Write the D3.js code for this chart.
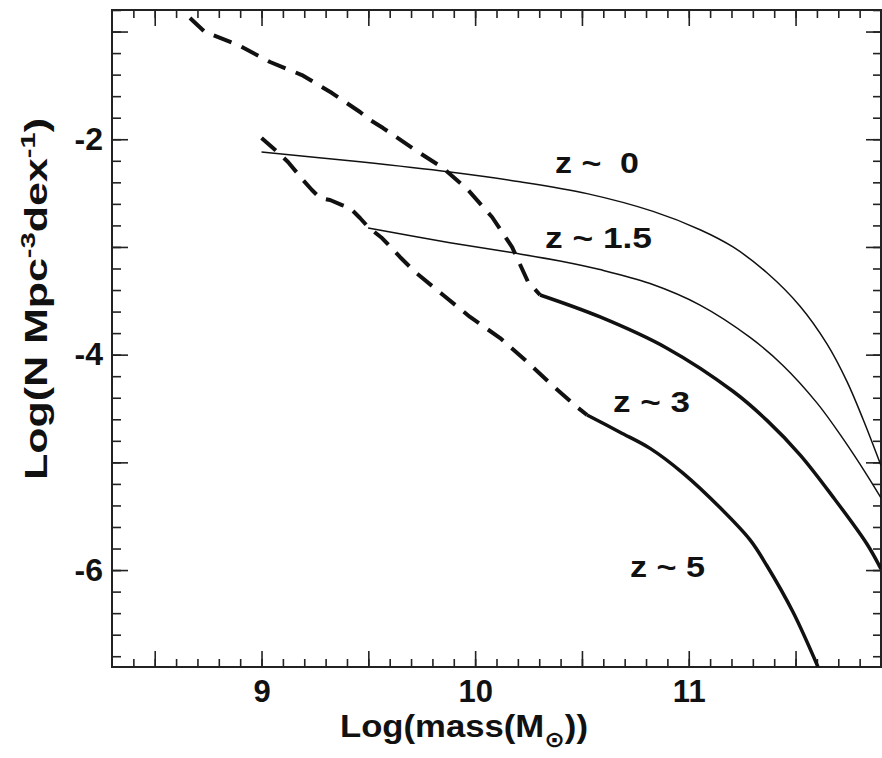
<!DOCTYPE html>
<html><head><meta charset="utf-8">
<script src="https://cdn.jsdelivr.net/npm/d3@7"></script>
<style>
body{margin:0;background:#fff}
svg text{font-family:"Liberation Sans",Arial,sans-serif;font-weight:bold;fill:#111}
</style>
</head><body>
<svg id="chart" width="882" height="758"></svg>
<script>
// ---- data ----
const z0Mass  = [9.000, 9.461, 9.882, 10.210, 10.524, 10.833, 11.053, 11.207, 11.366, 11.521, 11.647, 11.741, 11.816, 11.900];
const z0Phi   = [-2.118, -2.210, -2.305, -2.395, -2.505, -2.670, -2.840, -3.000, -3.240, -3.550, -3.900, -4.250, -4.600, -5.030];
const z15Mass = [9.499, 9.882, 10.163, 10.397, 10.584, 10.819, 11.053, 11.287, 11.441, 11.601, 11.722, 11.835, 11.900];
const z15Phi  = [-2.824, -2.960, -3.050, -3.130, -3.210, -3.340, -3.540, -3.840, -4.100, -4.450, -4.780, -5.120, -5.330];
const z3Mass  = [10.304, 10.585, 10.898, 11.207, 11.366, 11.521, 11.675, 11.835, 11.900];
const z3Phi   = [-3.446, -3.650, -3.940, -4.340, -4.610, -4.930, -5.320, -5.760, -5.990];
const z5Mass  = [10.524, 10.678, 10.819, 10.973, 11.146, 11.287, 11.366, 11.488, 11.605];
const z5Phi   = [-4.560, -4.720, -4.870, -5.100, -5.420, -5.720, -5.960, -6.390, -6.900];
const upperDashMass = [8.665, 8.735, 8.890, 9.040, 9.189, 9.330, 9.461, 9.508, 9.569, 9.719, 9.850, 9.967, 10.079, 10.173, 10.248, 10.304];
const upperDashPhi  = [-0.874, -1.004, -1.125, -1.283, -1.404, -1.571, -1.747, -1.821, -1.896, -2.100, -2.267, -2.471, -2.722, -3.001, -3.326, -3.446];
const lowerDashMass = [9.000, 9.075, 9.124, 9.194, 9.236, 9.274, 9.321, 9.377, 9.414, 9.461, 9.499, 9.564, 9.648, 9.719, 9.850, 9.976, 10.117, 10.234, 10.360, 10.482, 10.524];
const lowerDashPhi  = [-1.988, -2.118, -2.211, -2.378, -2.471, -2.546, -2.564, -2.611, -2.638, -2.731, -2.815, -2.917, -3.093, -3.233, -3.446, -3.650, -3.846, -4.050, -4.282, -4.495, -4.560];

const curveLabels = ["z ~  0", "z ~ 1.5", "z ~ 3", "z ~ 5"];
const labelMass   = [10.374, 10.327, 10.645, 10.725];
const labelPhi    = [-2.313, -3.010, -4.533, -6.065];
const labelWidth  = [84, 107, 77, 75];

const xLabelTicks = [9, 10, 11];
const yLabelTicks = [-2, -4, -6];
const xDomain = [8.3, 11.9];
const yDomain = [-0.8, -6.9];

// ---- layout ----
const svg = d3.select("#chart");
svg.append("rect").attr("width",882).attr("height",758).attr("fill","#fff");
const L = 112, R = 881, T = 10, B = 667;
const x = d3.scaleLinear().domain(xDomain).range([L, R]);
const y = d3.scaleLinear().domain(yDomain).range([T, B]);

const xMinor = d3.range(84, 119).map(v => v/10).filter(v => v > xDomain[0] && v < xDomain[1]);
const xMajor = xMinor.filter(v => Math.abs(v*2 - Math.round(v*2)) < 1e-6);
const yMinor = d3.range(-68, -4, 2).map(v => v/10);
const yMajor = yMinor.filter(v => Math.abs(v - Math.round(v)) < 1e-6);

function tickAxis(axisFn, scale, vals, size, transform){
  const g = svg.append("g").attr("transform", transform)
    .call(axisFn(scale).tickValues(vals).tickSize(size).tickFormat(""));
  g.select(".domain").remove();
  g.selectAll(".tick line").attr("stroke","#222").attr("stroke-width",1.6);
  return g;
}
tickAxis(d3.axisBottom, x, xMinor, -8,  `translate(0,${B})`);
tickAxis(d3.axisBottom, x, xMajor, -16, `translate(0,${B})`);
tickAxis(d3.axisTop,    x, xMinor, -8,  `translate(0,${T})`);
tickAxis(d3.axisTop,    x, xMajor, -16, `translate(0,${T})`);
tickAxis(d3.axisLeft,   y, yMinor, -9,  `translate(${L},0)`);
tickAxis(d3.axisLeft,   y, yMajor, -16, `translate(${L},0)`);
tickAxis(d3.axisRight,  y, yMinor, -8,  `translate(${R},0)`);
tickAxis(d3.axisRight,  y, yMajor, -15, `translate(${R},0)`);

const xl = svg.append("g").attr("transform",`translate(0,${B})`)
  .call(d3.axisBottom(x).tickValues(xLabelTicks).tickSize(0).tickPadding(13).tickFormat(d3.format("d")));
xl.select(".domain").remove();
xl.selectAll("text").style("font-size","31px").style("font-family",'"Liberation Sans",Arial,sans-serif').style("font-weight","bold").attr("fill","#111");

const yl = svg.append("g").attr("transform",`translate(${L},0)`)
  .call(d3.axisLeft(y).tickValues(yLabelTicks).tickSize(0).tickPadding(9).tickFormat(d => d3.format("d")(d).replace("\u2212","-")));
yl.select(".domain").remove();
yl.selectAll("text").style("font-size","32px").style("font-family",'"Liberation Sans",Arial,sans-serif').style("font-weight","bold").attr("fill","#111");

svg.append("rect").attr("x",L).attr("y",T).attr("width",R-L).attr("height",B-T)
  .attr("fill","none").attr("stroke","#222").attr("stroke-width",2);

const zip = (a,b) => a.map((v,i) => [v, b[i]]);
const smooth = d3.line().x(d => x(d[0])).y(d => y(d[1])).curve(d3.curveCatmullRom.alpha(0.5));
const straight = d3.line().x(d => x(d[0])).y(d => y(d[1]));
svg.append("clipPath").attr("id","pc").append("rect")
  .attr("x",L).attr("y",T).attr("width",R-L).attr("height",B-T);
const plot = svg.append("g").attr("clip-path","url(#pc)");

plot.append("path").attr("d", smooth(zip(z0Mass,z0Phi))).attr("fill","none").attr("stroke","#111").attr("stroke-width",1.5);
plot.append("path").attr("d", smooth(zip(z15Mass,z15Phi))).attr("fill","none").attr("stroke","#111").attr("stroke-width",1.5);
plot.append("path").attr("d", smooth(zip(z3Mass,z3Phi))).attr("fill","none").attr("stroke","#111").attr("stroke-width",3.5);
plot.append("path").attr("d", smooth(zip(z5Mass,z5Phi))).attr("fill","none").attr("stroke","#111").attr("stroke-width",3.5);
plot.append("path").attr("d", straight(zip(upperDashMass,upperDashPhi))).attr("fill","none").attr("stroke","#111")
  .attr("stroke-width",4).attr("stroke-dasharray","19,11").attr("stroke-linejoin","round");
plot.append("path").attr("d", straight(zip(lowerDashMass,lowerDashPhi))).attr("fill","none").attr("stroke","#111")
  .attr("stroke-width",4).attr("stroke-dasharray","19,11").attr("stroke-linejoin","round");

svg.append("g").selectAll("text").data(curveLabels).join("text")
  .attr("x",(d,i) => x(labelMass[i])).attr("y",(d,i) => y(labelPhi[i]))
  .attr("xml:space","preserve").style("white-space","pre")
  .attr("textLength",(d,i) => labelWidth[i]).attr("lengthAdjust","spacingAndGlyphs")
  .style("font-size","29px").text(d => d);

const xt = svg.append("text").attr("x", 340).attr("y", 737)
  .attr("textLength", 248).attr("lengthAdjust","spacingAndGlyphs").style("font-size","31px");
xt.append("tspan").text("Log(mass(M");
xt.append("tspan").text("\u2299").attr("dy",10).style("font-size","22px").style("font-family","'DejaVu Sans',sans-serif");
xt.append("tspan").text("))").attr("dy",-10);

const yt = svg.append("text").attr("transform","translate(47,480) rotate(-90)")
  .attr("textLength", 362).attr("lengthAdjust","spacingAndGlyphs").style("font-size","31px");
yt.append("tspan").text("Log(N Mpc");
yt.append("tspan").text("-3").attr("dy",-12).style("font-size","21px");
yt.append("tspan").text("dex").attr("dy",12);
yt.append("tspan").text("-1").attr("dy",-12).style("font-size","21px");
yt.append("tspan").text(")").attr("dy",12);
</script>
</body></html>
